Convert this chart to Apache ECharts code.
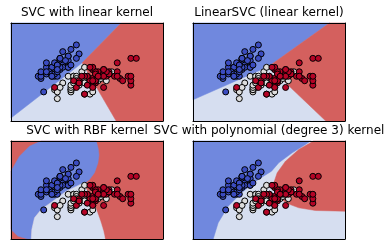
<!DOCTYPE html>
<html><head><meta charset="utf-8">
<script src="https://cdn.jsdelivr.net/npm/echarts@6/dist/echarts.min.js"></script>
<style>html,body{margin:0;padding:0;background:#fff}#c{width:392px;height:251px}</style>
</head><body><div id="c"></div>
<script>
// Iris sepal length / sepal width
const setosa = [[5.1,3.5],[4.9,3.0],[4.7,3.2],[4.6,3.1],[5.0,3.6],[5.4,3.9],[4.6,3.4],[5.0,3.4],[4.4,2.9],[4.9,3.1],
[5.4,3.7],[4.8,3.4],[4.8,3.0],[4.3,3.0],[5.8,4.0],[5.7,4.4],[5.4,3.9],[5.1,3.5],[5.7,3.8],[5.1,3.8],
[5.4,3.4],[5.1,3.7],[4.6,3.6],[5.1,3.3],[4.8,3.4],[5.0,3.0],[5.0,3.4],[5.2,3.5],[5.2,3.4],[4.7,3.2],
[4.8,3.1],[5.4,3.4],[5.2,4.1],[5.5,4.2],[4.9,3.1],[5.0,3.2],[5.5,3.5],[4.9,3.6],[4.4,3.0],[5.1,3.4],
[5.0,3.5],[4.5,2.3],[4.4,3.2],[5.0,3.5],[5.1,3.8],[4.8,3.0],[5.1,3.8],[4.6,3.2],[5.3,3.7],[5.0,3.3]];
const versicolor = [[7.0,3.2],[6.4,3.2],[6.9,3.1],[5.5,2.3],[6.5,2.8],[5.7,2.8],[6.3,3.3],[4.9,2.4],[6.6,2.9],[5.2,2.7],
[5.0,2.0],[5.9,3.0],[6.0,2.2],[6.1,2.9],[5.6,2.9],[6.7,3.1],[5.6,3.0],[5.8,2.7],[6.2,2.2],[5.6,2.5],
[5.9,3.2],[6.1,2.8],[6.3,2.5],[6.1,2.8],[6.4,2.9],[6.6,3.0],[6.8,2.8],[6.7,3.0],[6.0,2.9],[5.7,2.6],
[5.5,2.4],[5.5,2.4],[5.8,2.7],[6.0,2.7],[5.4,3.0],[6.0,3.4],[6.7,3.1],[6.3,2.3],[5.6,3.0],[5.5,2.5],
[5.5,2.6],[6.1,3.0],[5.8,2.6],[5.0,2.3],[5.6,2.7],[5.7,3.0],[5.7,2.9],[6.2,2.9],[5.1,2.5],[5.7,2.8]];
const virginica = [[6.3,3.3],[5.8,2.7],[7.1,3.0],[6.3,2.9],[6.5,3.0],[7.6,3.0],[4.9,2.5],[7.3,2.9],[6.7,2.5],[7.2,3.6],
[6.5,3.2],[6.4,2.7],[6.8,3.0],[5.7,2.5],[5.8,2.8],[6.4,3.2],[6.5,3.0],[7.7,3.8],[7.7,2.6],[6.0,2.2],
[6.9,3.2],[5.6,2.8],[7.7,2.8],[6.3,2.7],[6.7,3.3],[7.2,3.2],[6.2,2.8],[6.1,3.0],[6.4,2.8],[7.2,3.0],
[7.4,2.8],[7.9,3.8],[6.4,2.8],[6.3,2.8],[6.1,2.6],[7.7,3.0],[6.3,3.4],[6.4,3.1],[6.0,3.0],[6.9,3.1],
[6.7,3.1],[6.9,3.1],[5.8,2.7],[6.8,3.2],[6.7,3.3],[6.7,3.0],[6.3,2.5],[6.5,3.0],[6.2,3.4],[5.9,3.0]];

const titles = ['SVC with linear kernel', 'LinearSVC (linear kernel)', 'SVC with RBF kernel', 'SVC with polynomial (degree 3) kernel'];
const xRange = [3.3, 8.88];
const yRange = [1.0, 5.38];

// decision region boundaries (data coordinates)
const fullRect = [[3.3,5.38],[8.88,5.38],[8.88,1.0],[3.3,1.0]];
const linBlue = [[3.3,5.38],[7.345,5.38],[5.914,3.60],[3.3,1.133]];
const linRed = [[7.345,5.38],[8.88,5.38],[8.88,1.0],[7.16,1.0],[5.914,3.60]];
const lsvcBlue = [[3.3,5.38],[8.311,5.38],[6.072,3.436],[3.3,1.947]];
const lsvcRed = [[8.311,5.38],[8.88,5.38],[8.88,1.0],[8.175,1.0],[6.072,3.436]];
const rbfBlue = [[3.3,4.03],[3.612,4.70],[3.979,5.148],[4.409,5.38],[6.428,5.38],[6.50,5.05],[6.53,4.75],[6.49,4.40],
[6.365,3.959],[6.182,3.659],[5.936,3.436],[5.9,3.47],[5.326,3.136],[4.834,2.689],[4.409,2.318],[4.163,1.947],
[4.064,1.424],[4.042,1.0],[3.917,1.0],[3.55,1.13],[3.3,1.424]];
const rbfLight = [[5.9,3.47],[5.326,3.136],[4.834,2.689],[4.409,2.318],[4.163,1.947],[4.064,1.424],[4.042,1.0],
[6.751,1.0],[6.696,1.335],[6.585,1.782],[6.402,2.407],[6.182,2.989],[5.961,3.436]];
const polyBlue = [[3.3,5.38],[7.613,5.38],[7.430,5.224],[6.942,4.853],[6.450,4.406],[6.182,4.030],[5.693,3.659],
[5.080,3.065],[4.592,2.466],[4.225,1.724],[4.042,1.0],[3.3,1.0]];
const polyRed = [[7.724,5.38],[8.88,5.38],[8.88,2.242],[7.797,2.273],[7.184,2.394],[6.696,2.618],[6.329,3.065],
[6.266,3.512],[6.391,3.959],[6.696,4.477],[7.184,5.00]];

const C_BLUE = '#7088de', C_LIGHT = '#d6def0', C_RED = '#d4605e';
const regions = [
  [[fullRect, C_LIGHT],[linBlue, C_BLUE],[linRed, C_RED]],
  [[fullRect, C_LIGHT],[lsvcBlue, C_BLUE],[lsvcRed, C_RED]],
  [[fullRect, C_RED],[rbfBlue, C_BLUE],[rbfLight, C_LIGHT]],
  [[fullRect, C_LIGHT],[polyBlue, C_BLUE],[polyRed, C_RED]]
];

const grids = [
  {left:11, top:23, width:152, height:98},
  {left:193, top:23, width:152, height:98},
  {left:11, top:141, width:152, height:98},
  {left:193, top:141, width:152, height:98}
];
const titleTops = [7, 7, 125, 125];

const chart = echarts.init(document.getElementById('c'), null, {renderer:'canvas'});
const xAxes = [], yAxes = [], series = [], titleOpts = [];
function axisBase(){
  return {type:'value', axisLine:{show:true, onZero:false, lineStyle:{color:'#000', width:1}},
    axisTick:{show:false}, axisLabel:{show:false}, splitLine:{show:false}, z:10};
}
for (let i=0;i<4;i++){
  xAxes.push(Object.assign(axisBase(), {gridIndex:i, min:xRange[0], max:xRange[1], position:'bottom'}));
  yAxes.push(Object.assign(axisBase(), {gridIndex:i, min:yRange[0], max:yRange[1], position:'left'}));
}
for (let i=0;i<4;i++){
  xAxes.push(Object.assign(axisBase(), {gridIndex:i, min:xRange[0], max:xRange[1], position:'top'}));
  yAxes.push(Object.assign(axisBase(), {gridIndex:i, min:yRange[0], max:yRange[1], position:'right'}));
}
for (let i=0;i<4;i++){
  const g = grids[i];
  titleOpts.push({text:titles[i], left:g.left + g.width/2, top:titleTops[i], textAlign:'center', padding:0,
    textStyle:{fontFamily:'DejaVu Sans', fontSize:12, fontWeight:'normal', color:'#000'}});
  regions[i].forEach(([pts, color], k) => {
    series.push({type:'custom', xAxisIndex:i, yAxisIndex:i, silent:true, z:1+k*0.01,
      data:[pts[0]],
      renderItem:(params, api) => ({type:'polygon', shape:{points: pts.map(p => api.coord(p))},
        style:{fill:color, stroke:color, lineWidth:0.5}})
    });
  });
  [[setosa,'#3b4cc0'],[versicolor,'#dddddd'],[virginica,'#b40426']].forEach(([d, col]) => {
    series.push({type:'scatter', xAxisIndex:i, yAxisIndex:i, data:d, symbol:'circle', symbolSize:6, z:5,
      itemStyle:{color:col, borderColor:'#000', borderWidth:1, opacity:1}, silent:true});
  });
}
chart.setOption({animation:false, title:titleOpts, grid:grids, xAxis:xAxes, yAxis:yAxes, series:series});
</script></body></html>
